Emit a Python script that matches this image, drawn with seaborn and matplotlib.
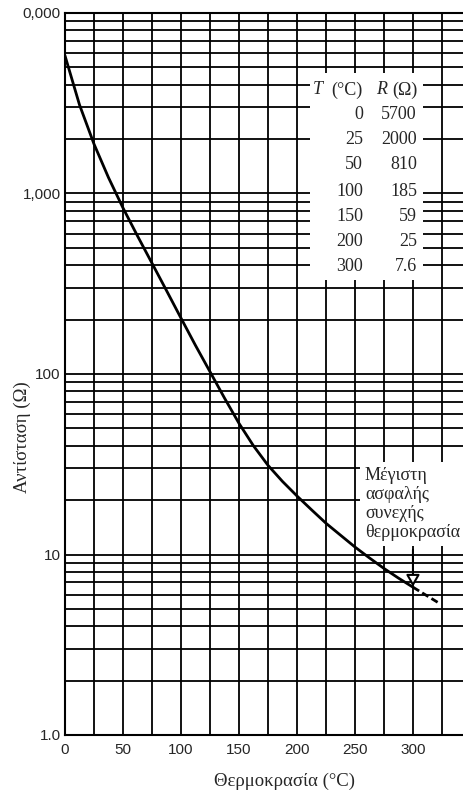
import numpy as np
import pandas as pd
import matplotlib
matplotlib.use("Agg")
import matplotlib.pyplot as plt
import seaborn as sns
from matplotlib.ticker import FixedLocator, LogLocator, NullFormatter, FixedFormatter, MultipleLocator
from matplotlib.patches import Rectangle

# ---- data ----
curve_T = [0, 12.5, 25, 37.5, 50, 62.5, 75, 87.5, 100, 112.5, 125, 137.5, 150,
           162.5, 175, 187.5, 200, 212.5, 225, 237.5, 250, 262.5, 275, 287.5, 300]
curve_R = [5800, 3100, 1880, 1225, 832, 582, 411, 290, 204, 144, 103, 73.6, 53.3,
           40.0, 31.2, 25.4, 21.1, 17.7, 14.9, 12.8, 11.0, 9.57, 8.37, 7.40, 6.59]
ext_T = [300, 322]
ext_R = [6.59, 5.4]

table_T = ["0", "25", "50", "100", "150", "200", "300"]
table_R = ["5700", "2000", "810", "185", "59", "25", "7.6"]

x_ticks = [0, 50, 100, 150, 200, 250, 300]
y_ticks = [1, 10, 100, 1000, 10000]
y_tick_labels = ["1.0", "10", "100", "1,000", "0,000"]

note_lines = ["Μέγιστη", "ασφαλής", "συνεχής", "θερμοκρασία"]
x_label = "Θερμοκρασία (°C)"
y_label = "Αντίσταση (Ω)"
max_temp = 300

# ---- style ----
sns.set_style("white")
plt.rcParams["font.family"] = ["Liberation Sans", "DejaVu Sans"]
serif = ["Liberation Serif", "DejaVu Serif"]

W, H = 464, 792
fig = plt.figure(figsize=(W / 100, H / 100), dpi=100)
L, B, T_, R_ = 65, 735, 13, 464
ax = fig.add_axes([L / W, 1 - B / H, (R_ - L) / W, (B - T_) / H])

curve = pd.DataFrame({"T": curve_T, "R": curve_R})
ext = pd.DataFrame({"T": ext_T, "R": ext_R})
sns.lineplot(data=curve, x="T", y="R", ax=ax, color="black", lw=2.0, zorder=3)
sns.lineplot(data=ext, x="T", y="R", ax=ax, color="black", lw=2.0,
             linestyle=(0, (2.6, 1.3)), zorder=3)

ax.set_yscale("log")
ax.set_ylim(1, 10000)
ax.set_xlim(0, 344)

ax.xaxis.set_major_locator(FixedLocator(x_ticks))
ax.xaxis.set_minor_locator(MultipleLocator(25))
ax.yaxis.set_major_locator(FixedLocator(y_ticks))
ax.yaxis.set_major_formatter(FixedFormatter(y_tick_labels))
ax.yaxis.set_minor_locator(LogLocator(base=10, subs=np.arange(2, 10), numticks=30))
ax.yaxis.set_minor_formatter(NullFormatter())

ax.set_axisbelow(True)
ax.grid(which="both", axis="both", color="black", lw=1.3)
ax.tick_params(which="both", length=0)
ax.tick_params(axis="x", pad=6, labelsize=11)
ax.tick_params(axis="y", pad=3, labelsize=11)
for s in ["left", "bottom", "top"]:
    ax.spines[s].set_color("black")
    ax.spines[s].set_linewidth(1.5)
ax.spines["right"].set_visible(False)
ax.set_xlabel("")
ax.set_ylabel("")

# ---- table (white panel) ----
def fx(px):
    return (px - L) / (R_ - L)

def fy(py):
    return (B - py) / (B - T_)

ax.add_patch(Rectangle((fx(310), fy(280)), fx(423) - fx(310), fy(73) - fy(280),
                       transform=ax.transAxes, facecolor="white", edgecolor="none", zorder=2.5))
fs = 13
ax.text(fx(313), fy(90), "T", transform=ax.transAxes, family=serif, style="italic",
        fontsize=fs, ha="left", va="center", zorder=4)
ax.text(fx(363), fy(90), "(°C)", transform=ax.transAxes, family=serif,
        fontsize=fs, ha="right", va="center", zorder=4)
ax.text(fx(376), fy(90), "R", transform=ax.transAxes, family=serif, style="italic",
        fontsize=fs, ha="left", va="center", zorder=4)
ax.text(fx(418), fy(90), "(Ω)", transform=ax.transAxes, family=serif,
        fontsize=fs, ha="right", va="center", zorder=4)
row_y = [115, 140, 165, 192, 217, 242, 267]
for t, r, py in zip(table_T, table_R, row_y):
    ax.text(fx(363), fy(py), t, transform=ax.transAxes, family=serif,
            fontsize=fs, ha="right", va="center", zorder=4)
    ax.text(fx(417), fy(py), r, transform=ax.transAxes, family=serif,
            fontsize=fs, ha="right", va="center", zorder=4)

# ---- annotation ----
ax.text(fx(365), fy(504), "\n".join(note_lines), transform=ax.transAxes, family=serif,
        fontsize=13, ha="left", va="center", linespacing=1.15, zorder=4, clip_on=False,
        bbox=dict(boxstyle="square,pad=0.3", facecolor="white", edgecolor="none"))
ax.annotate("", xy=(max_temp, 6.4), xytext=(max_temp, 11),
            arrowprops=dict(arrowstyle="-|>,head_length=0.7,head_width=0.4",
                            facecolor="white", edgecolor="black", lw=1.5),
            zorder=5)

# ---- axis titles ----
fig.text(22 / W, 1 - 437 / H, y_label, rotation=90, family=serif, fontsize=13.5,
         ha="center", va="center")
fig.text(285 / W, 1 - 781 / H, x_label, family=serif, fontsize=13.5,
         ha="center", va="center")

fig.savefig("out.png", dpi=100)
